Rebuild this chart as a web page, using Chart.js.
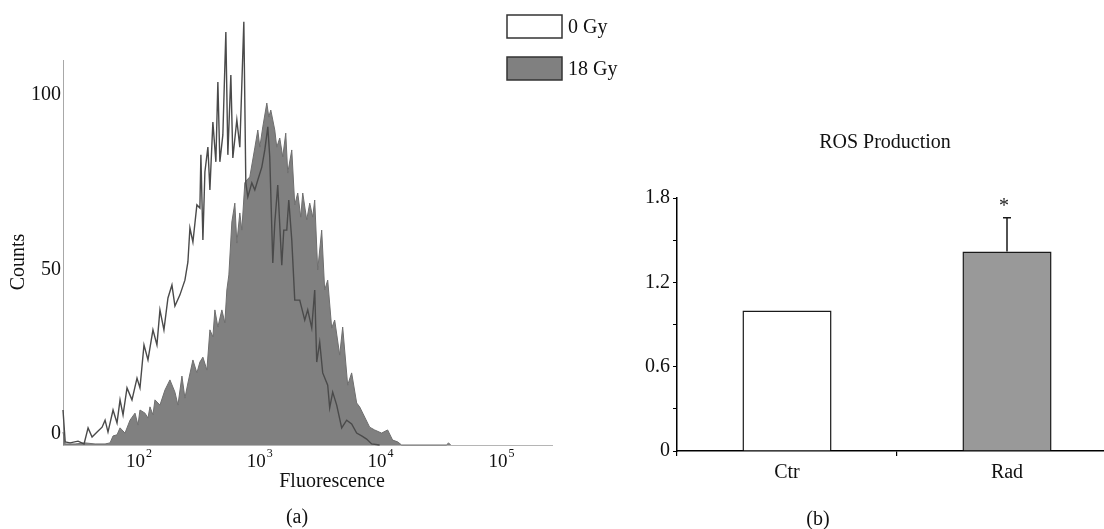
<!DOCTYPE html>
<html>
<head>
<meta charset="utf-8">
<title>ROS production</title>
<script src="https://cdn.jsdelivr.net/npm/chart.js@4.4.0/dist/chart.umd.min.js"></script>
<style>
  html, body { margin: 0; padding: 0; background: #fff; overflow: hidden; }
  #wrap { position: relative; width: 1104px; height: 529px; overflow: hidden; }
  #histo { position: absolute; left: 0; top: 0; }
  #ros { position: absolute; left: 590px; top: 0; }
</style>
</head>
<body>
<div id="wrap">
  <canvas id="histo" width="620" height="529"></canvas>
  <canvas id="ros" width="540" height="529"></canvas>
</div>
<script>
const SERIF = '"Liberation Serif", "Times New Roman", serif';

// --- (a) histogram: fluorescence channel -> counts ---
const seriesNames = ['0 Gy', '18 Gy'];
const gy0Fluor = [23.5, 24.5, 26.9, 31.3, 35.1, 37.9, 40.9, 45.0, 49.5, 52.4, 55.4, 61.0, 65.8, 69.7, 73.8, 79.6,
  87.5, 96.3, 101.9, 110, 118.7, 130.5, 140.8, 149.1, 160.9, 173.7, 187.4, 198.4, 218.3, 240, 254.1, 264,
  279.5, 301.5, 319.3, 325.4, 338.1, 351.2, 371.8, 386.3, 408.9, 432.9, 449.7, 467.1, 494.5, 523.6, 543.9,
  575.9, 598.2, 645.5, 683.4, 737.6, 766.2, 795.9, 858.9, 909.4, 962.9, 1039, 1100, 1165, 1209, 1281, 1330,
  1408, 1520, 1579, 1672, 1737, 1839, 1947, 2141, 2355, 2493, 2691, 2848, 2959, 3133, 3317, 3648, 3789, 4012,
  4329, 4762, 5236, 5758, 6334, 6966, 7661, 8425, 9810];
const gy0Counts = [10.0, 0.9, 0.6, 1.1, 0.3, 4.9, 2.3, 3.7, 5.1, 7.1, 3.7, 10.0, 6.3, 12.9, 8.6, 16.3,
  12.9, 19.1, 16.3, 28.6, 24.3, 32.9, 28.6, 38.6, 32.9, 42.0, 45.7, 39.7, 42.9, 47.1, 52.3, 62.0,
  58.0, 68.6, 67.7, 82.9, 58.6, 78.0, 85.1, 72.9, 92.3, 80.9, 103.7, 80.9, 88.6, 118.0, 82.9,
  105.7, 82.0, 92.9, 85.1, 120.9, 74.9, 70.9, 74.9, 72.9, 75.7, 79.4, 84.3, 90.9, 82.3, 52.0, 63.4,
  74.3, 51.4, 61.4, 61.4, 70.0, 58.6, 41.4, 41.4, 35.7, 38.6, 33.4, 44.3, 23.7, 29.4, 20.6, 17.1, 10.6, 15.1,
  11.4, 4.9, 7.1, 6.0, 3.4, 2.6, 1.7, 0.3, 0];
const gy18Fluor = [23.5, 24.5, 29.6, 35.8, 43.3, 52.4, 57.6, 61.0, 65.8, 69.7, 72.4, 76.6, 84.3, 92.7, 98.1,
  101.9, 112.1, 118.7, 123.3, 130.5, 135.6, 149.1, 164.0, 180.4, 198.4, 210.1, 226.7, 240, 254.1, 279.5,
  301.5, 319.3, 338.1, 364.8, 386.3, 408.9, 424.8, 449.7, 485.3, 513.7, 533.7, 554.4, 587.0, 621.4, 645.5,
  683.4, 710.0, 751.6, 780.5, 826.5, 909.4, 962.9, 1000, 1059, 1143, 1187, 1233, 1330, 1382, 1463, 1549,
  1640, 1703, 1839, 1947, 2061, 2182, 2267, 2446, 2590, 2742, 2848, 3015, 3253, 3444, 3648, 3936, 4167,
  4584, 4853, 5338, 5758, 6334, 6706, 7375, 8111, 8920, 10193, 11429, 12569, 13823, 14918, 35000, 36500, 38000];
const gy18Counts = [3.7, 0.3, 0.3, 0.6, 0.3, 0.3, 0.6, 2.6, 2.9, 4.9, 4.3, 3.4, 7.1, 9.1, 5.7,
  10.0, 9.1, 7.7, 10.9, 8.6, 12.9, 11.4, 15.7, 18.6, 15.1, 11.4, 19.7, 13.4, 17.7, 24.3,
  20.6, 23.7, 25.1, 21.4, 32.9, 30.9, 38.6, 33.7, 38.6, 34.9, 44.3, 48.6, 63.7, 69.1, 57.7,
  66.3, 61.4, 74.9, 75.7, 76.6, 84.9, 90.0, 85.1, 90.9, 97.7, 93.7, 95.7, 90.0, 85.1, 87.7, 82.3,
  89.1, 77.7, 84.3, 68.6, 72.0, 65.1, 72.0, 64.3, 69.1, 65.1, 70.0, 50.0, 61.4, 44.3, 47.1, 33.4, 35.7,
  25.7, 33.7, 17.1, 20.6, 12.0, 10.9, 8.0, 5.1, 4.3, 3.4, 4.3, 1.4, 0.9, 0, 0, 0.6, 0];
const histTicks = [100, 1000, 10000, 100000];
const histTickExp = ['2', '3', '4', '5'];
const countTicks = [0, 50, 100];

// --- (b) ROS production ---
const groups = ['Ctr', 'Rad'];
const rosMean = [1.0, 1.42];
const rosErr = [0, 0.24];
const rosSig = ['', '*'];
const rosTickLabels = ['0', '0.6', '1.2', '1.8'];

function pts(xs, ys) {
  return xs.map((x, i) => ({ x: x, y: ys[i] }));
}

// tick labels, axis titles and legend of panel (a)
const histLabels = {
  id: 'histLabels',
  afterDraw(chart) {
    const { ctx, chartArea, scales } = chart;
    ctx.save();
    ctx.fillStyle = '#111';
    histTicks.forEach((v, i) => {
      const px = scales.x.getPixelForValue(v);
      ctx.font = '19px ' + SERIF;
      const w1 = ctx.measureText('10').width;
      ctx.font = '12px ' + SERIF;
      const w2 = ctx.measureText(histTickExp[i]).width;
      const x0 = px - (w1 + w2 + 1) / 2;
      ctx.textAlign = 'left';
      ctx.textBaseline = 'alphabetic';
      ctx.font = '19px ' + SERIF;
      ctx.fillText('10', x0, chartArea.bottom + 22);
      ctx.font = '12px ' + SERIF;
      ctx.fillText(histTickExp[i], x0 + w1 + 1, chartArea.bottom + 12);
    });

    ctx.font = '20px ' + SERIF;
    ctx.textAlign = 'right';
    ctx.textBaseline = 'middle';
    countTicks.forEach(v => {
      const py = Math.min(scales.y.getPixelForValue(v), chartArea.bottom - 11);
      ctx.fillText(String(v), chartArea.left - 2, py);
    });

    ctx.textAlign = 'center';
    ctx.fillText('Fluorescence', 332, 482);
    ctx.fillText('(a)', 297, 518);
    ctx.save();
    ctx.translate(19, 262);
    ctx.rotate(-Math.PI / 2);
    ctx.fillText('Counts', 0, 0);
    ctx.restore();

    // legend boxes
    chart.data.datasets.forEach((ds, i) => {
      const top = 15 + i * 42;
      ctx.fillStyle = ds.fill ? ds.backgroundColor : '#fff';
      ctx.fillRect(507, top, 55, 23);
      ctx.strokeStyle = '#333';
      ctx.lineWidth = 1.5;
      ctx.strokeRect(507, top, 55, 23);
      ctx.fillStyle = '#111';
      ctx.textAlign = 'left';
      ctx.fillText(ds.label, 568, top + 13);
    });
    ctx.restore();
  }
};

const histChart = new Chart(document.getElementById('histo'), {
  type: 'line',
  data: {
    datasets: [
      { label: seriesNames[0], data: pts(gy0Fluor, gy0Counts), borderColor: '#4a4a4a', borderWidth: 1.4,
        fill: false, pointRadius: 0, tension: 0, clip: false },
      { label: seriesNames[1], data: pts(gy18Fluor, gy18Counts), borderColor: '#6e6e6e', borderWidth: 1,
        backgroundColor: '#808080', fill: 'origin', pointRadius: 0, tension: 0, clip: false }
    ]
  },
  options: {
    responsive: false,
    animation: false,
    events: [],
    layout: { padding: { top: 60, right: 68, left: 0, bottom: 0 } },
    plugins: { legend: { display: false }, tooltip: { enabled: false } },
    scales: {
      x: {
        type: 'logarithmic', min: 23.5, max: 262144, bounds: 'data',
        afterBuildTicks: s => { s.ticks = histTicks.map(v => ({ value: v })); },
        afterFit: s => { s.height = 84; },
        grid: { display: false },
        ticks: { display: false },
        border: { display: true, color: '#b5b5b5', width: 1 }
      },
      y: {
        min: 0, max: 110,
        afterFit: s => { s.width = 63; },
        grid: { display: false },
        ticks: { display: false },
        border: { display: true, color: '#a8a8a8', width: 1, dash: [2, 2] }
      }
    }
  },
  plugins: [histLabels]
});

// error bars, significance mark, title and panel letter of (b)
const rosExtras = {
  id: 'rosExtras',
  afterDatasetsDraw(chart) {
    const { ctx, scales: { x, y } } = chart;
    ctx.save();
    ctx.strokeStyle = '#1a1a1a';
    ctx.lineWidth = 1.5;
    groups.forEach((g, i) => {
      const cx = x.getPixelForValue(i);
      const yTop = y.getPixelForValue(rosMean[i] + rosErr[i]);
      if (rosErr[i] > 0) {
        ctx.beginPath();
        ctx.moveTo(cx, y.getPixelForValue(rosMean[i]));
        ctx.lineTo(cx, yTop);
        ctx.moveTo(cx - 4, yTop);
        ctx.lineTo(cx + 4, yTop);
        ctx.stroke();
      }
      if (rosSig[i]) {
        ctx.font = '20px ' + SERIF;
        ctx.fillStyle = '#222';
        ctx.textAlign = 'center';
        ctx.textBaseline = 'alphabetic';
        ctx.fillText(rosSig[i], cx - 3, yTop - 6);
      }
    });
    ctx.restore();
  },
  afterDraw(chart) {
    const ctx = chart.ctx;
    ctx.save();
    ctx.fillStyle = '#111';
    ctx.font = '20px ' + SERIF;
    ctx.textAlign = 'center';
    ctx.textBaseline = 'middle';
    ctx.fillText('ROS Production', 295, 143);
    ctx.fillText('(b)', 228, 520);
    ctx.restore();
  }
};

const rosChart = new Chart(document.getElementById('ros'), {
  type: 'bar',
  data: {
    labels: groups,
    datasets: [{
      data: rosMean,
      backgroundColor: ['#ffffff', '#999999'],
      borderColor: '#1a1a1a',
      borderWidth: 1.5,
      barPercentage: 0.405,
      categoryPercentage: 1
    }]
  },
  options: {
    responsive: false,
    animation: false,
    events: [],
    layout: { padding: { top: 198, right: 13, left: 0, bottom: 0 } },
    plugins: { legend: { display: false }, tooltip: { enabled: false } },
    scales: {
      x: {
        afterFit: s => { s.height = 78; },
        grid: { display: true, drawOnChartArea: false, drawTicks: true, tickLength: 5, color: '#000', lineWidth: 1.2 },
        border: { display: true, color: '#000', width: 1.5 },
        ticks: { font: { family: SERIF, size: 20 }, color: '#111', padding: 5 }
      },
      y: {
        min: 0, max: 1.8,
        afterFit: s => { s.width = 87; },
        grid: { display: true, drawOnChartArea: false, drawTicks: true, tickLength: 4, color: '#000', lineWidth: 1 },
        border: { display: true, color: '#000', width: 1.5 },
        ticks: {
          stepSize: 0.3,
          padding: 3,
          font: { family: SERIF, size: 20 },
          color: '#111',
          callback: (v, i) => (i % 2 === 0 ? rosTickLabels[i / 2] : '')
        }
      }
    }
  },
  plugins: [rosExtras]
});
</script>
</body>
</html>
